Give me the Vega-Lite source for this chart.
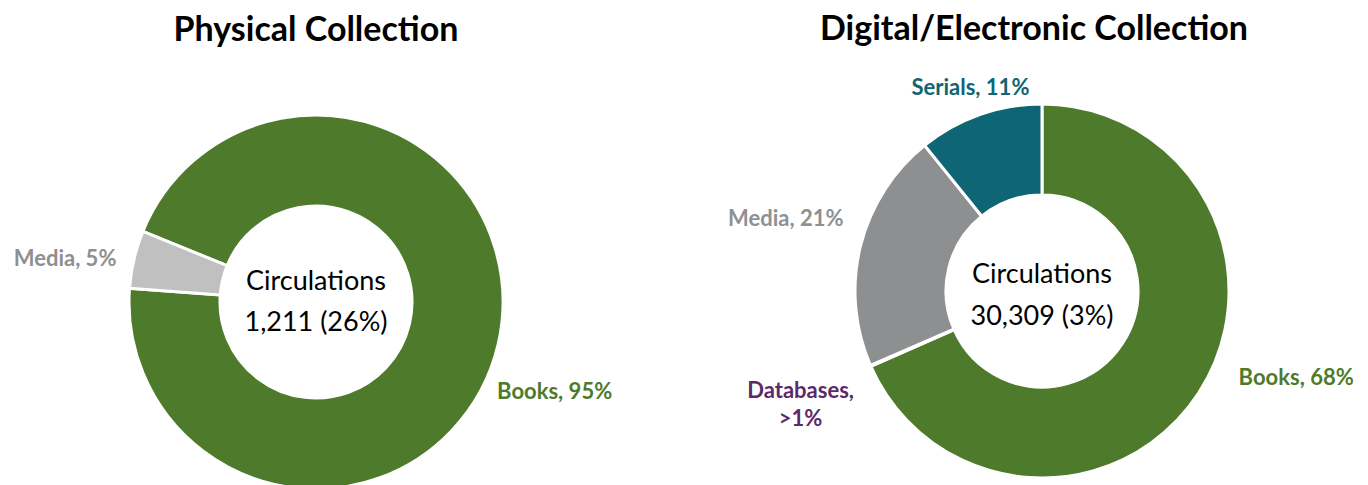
{
  "$schema": "https://vega.github.io/schema/vega-lite/v6.json",
  "padding": {"left": 0, "right": 0, "top": 13, "bottom": 0},
  "spacing": 84,
  "resolve": {"scale": {"color": "independent", "theta": "independent"}},
  "config": {"view": {"stroke": null}, "font": "Lato"},
  "hconcat": [
    {
      "width": 632,
      "height": 366,
      "title": {"text": "Physical Collection", "fontSize": 34, "fontWeight": "bold", "font": "Lato", "color": "#000000", "anchor": "middle", "offset": 61},
      "data": {"values": [
        {"category": "Books", "value": 95, "label": "Books, 95%"},
        {"category": "Media", "value": 5, "label": "Media, 5%"}
      ]},
      "layer": [
        {
          "mark": {"type": "arc", "radius": 187, "radius2": 96, "stroke": "#ffffff", "strokeWidth": 3},
          "encoding": {
            "theta": {"field": "value", "type": "quantitative", "stack": true, "scale": {"range": [5.10, 11.383]}},
            "order": {"field": "category", "type": "ordinal"},
            "color": {"field": "category", "type": "nominal", "scale": {"domain": ["Books", "Media"], "range": ["#4E7A2C", "#BFC0BF"]}, "legend": null}
          }
        },
        {
          "mark": {"type": "text", "radius": 186, "align": "left", "baseline": "middle", "dy": 48, "fontSize": 22, "fontWeight": "bold", "font": "Lato", "color": "#4E7A2C"},
          "encoding": {
            "theta": {"field": "value", "type": "quantitative", "stack": true},
            "order": {"field": "category", "type": "ordinal"},
            "detail": {"field": "category", "type": "nominal"},
            "text": {"condition": {"test": "datum.category === 'Books'", "field": "label", "type": "nominal"}, "value": ""}
          }
        },
        {
          "mark": {"type": "text", "radius": 205, "align": "right", "baseline": "middle", "dy": 4, "fontSize": 22, "fontWeight": "bold", "font": "Lato", "color": "#8F8F8F"},
          "encoding": {
            "theta": {"field": "value", "type": "quantitative", "stack": true},
            "order": {"field": "category", "type": "ordinal"},
            "detail": {"field": "category", "type": "nominal"},
            "text": {"condition": {"test": "datum.category === 'Media'", "field": "label", "type": "nominal"}, "value": ""}
          }
        },
        {
          "data": {"values": [{"center": "Circulations\n1,211 (26%)"}]},
          "mark": {"type": "text", "align": "center", "baseline": "middle", "lineBreak": "\n", "lineHeight": 41, "fontSize": 27, "font": "Lato", "color": "#000000", "dy": -20},
          "encoding": {"text": {"field": "center", "type": "nominal"}}
        }
      ]
    },
    {
      "width": 652,
      "height": 344,
      "title": {"text": "Digital/Electronic Collection", "fontSize": 34, "fontWeight": "bold", "font": "Lato", "color": "#000000", "anchor": "middle", "offset": 29.5, "dx": -8},
      "data": {"values": [
        {"category": "Books", "value": 68.4, "label": "Books, 68%"},
        {"category": "Databases", "value": 0.1, "label": "Databases,\n>1%"},
        {"category": "Media", "value": 20.7, "label": "Media, 21%"},
        {"category": "Serials", "value": 10.8, "label": "Serials, 11%"}
      ]},
      "layer": [
        {
          "mark": {"type": "arc", "radius": 187, "radius2": 96, "stroke": "#ffffff", "strokeWidth": 3},
          "encoding": {
            "theta": {"field": "value", "type": "quantitative", "stack": true, "scale": {"range": [0, 6.2832]}},
            "order": {"field": "category", "type": "ordinal"},
            "color": {"field": "category", "type": "nominal", "scale": {"domain": ["Books", "Databases", "Media", "Serials"], "range": ["#4E7A2C", "#5C2A6B", "#8E8F91", "#0E6574"]}, "legend": null}
          }
        },
        {
          "mark": {"type": "text", "radius": 187, "align": "left", "baseline": "middle", "dx": 40, "dy": -15, "fontSize": 22, "fontWeight": "bold", "font": "Lato", "color": "#4E7A2C"},
          "encoding": {
            "theta": {"field": "value", "type": "quantitative", "stack": true},
            "order": {"field": "category", "type": "ordinal"},
            "detail": {"field": "category", "type": "nominal"},
            "text": {"condition": {"test": "datum.category === 'Books'", "field": "label", "type": "nominal"}, "value": ""}
          }
        },
        {
          "mark": {"type": "text", "radius": 187, "align": "center", "baseline": "middle", "dx": -70, "dy": 25.5, "lineBreak": "\n", "lineHeight": 28, "fontSize": 22, "fontWeight": "bold", "font": "Lato", "color": "#5C2A6B"},
          "encoding": {
            "theta": {"field": "value", "type": "quantitative", "stack": true},
            "order": {"field": "category", "type": "ordinal"},
            "detail": {"field": "category", "type": "nominal"},
            "text": {"condition": {"test": "datum.category === 'Databases'", "field": "label", "type": "nominal"}, "value": ""}
          }
        },
        {
          "mark": {"type": "text", "radius": 187, "align": "right", "baseline": "middle", "dx": -17, "dy": -27, "fontSize": 22, "fontWeight": "bold", "font": "Lato", "color": "#8F9092"},
          "encoding": {
            "theta": {"field": "value", "type": "quantitative", "stack": true},
            "order": {"field": "category", "type": "ordinal"},
            "detail": {"field": "category", "type": "nominal"},
            "text": {"condition": {"test": "datum.category === 'Media'", "field": "label", "type": "nominal"}, "value": ""}
          }
        },
        {
          "mark": {"type": "text", "radius": 215, "align": "center", "baseline": "middle", "fontSize": 22, "fontWeight": "bold", "font": "Lato", "color": "#0E6574"},
          "encoding": {
            "theta": {"field": "value", "type": "quantitative", "stack": true},
            "order": {"field": "category", "type": "ordinal"},
            "detail": {"field": "category", "type": "nominal"},
            "text": {"condition": {"test": "datum.category === 'Serials'", "field": "label", "type": "nominal"}, "value": ""}
          }
        },
        {
          "data": {"values": [{"center": "Circulations\n30,309 (3%)"}]},
          "mark": {"type": "text", "align": "center", "baseline": "middle", "lineBreak": "\n", "lineHeight": 42, "fontSize": 27, "font": "Lato", "color": "#000000", "dy": -16.5},
          "encoding": {"text": {"field": "center", "type": "nominal"}}
        }
      ]
    }
  ]
}
